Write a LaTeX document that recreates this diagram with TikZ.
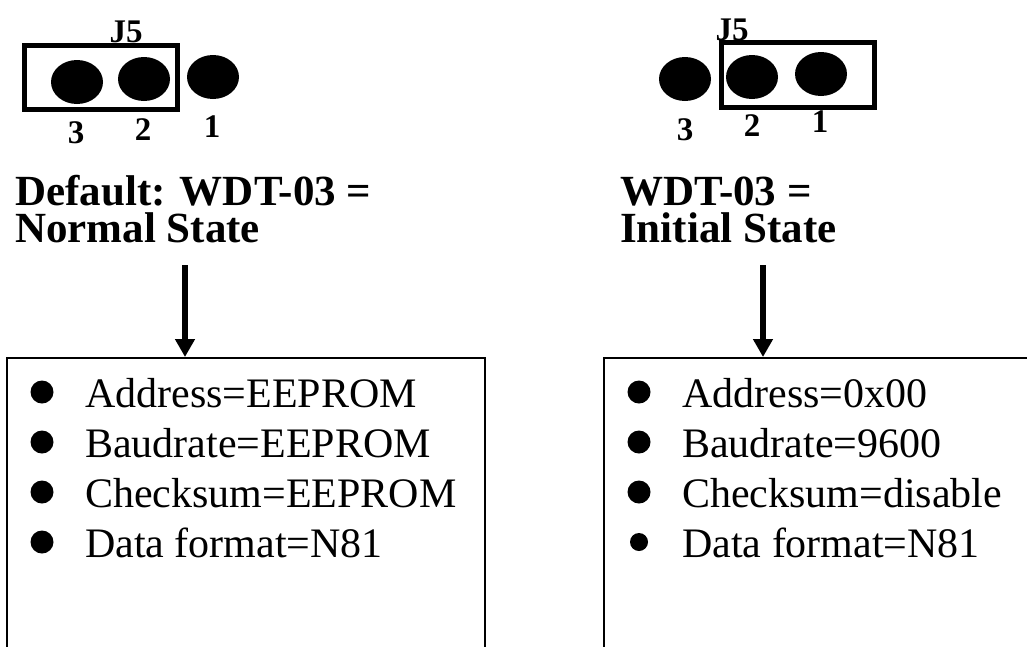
\documentclass[tikz,border=0pt]{standalone}
\usepackage{fontspec}
\setmainfont{Liberation Serif}
\usetikzlibrary{arrows.meta, positioning, shapes.geometric}

\tikzset{
  pin/.style={ellipse, fill=black, minimum width=52pt, minimum height=44pt, inner sep=0pt},
  pinnum/.style={font=\fontsize{33}{33}\selectfont\bfseries, inner sep=0pt},
  jumper/.style={draw, line width=5pt, inner sep=0pt},
  heading/.style={font=\fontsize{43}{37}\selectfont\bfseries, align=left, inner sep=0pt, anchor=base west},
  item/.style={font=\fontsize{42}{42}\selectfont, inner sep=0pt, anchor=base west},
  panel/.style={draw, line width=2pt, anchor=north west, inner sep=0pt},
  flow/.style={line width=6pt, -{Triangle[width=19pt, length=18pt]}},
}

\begin{document}
\begin{tikzpicture}[x=1pt, y=-1pt]
    \useasboundingbox (0,0) rectangle (1027,646);
    \clip (0,0) rectangle (1027,646);

    % jumper J5, default (pins 2-3 closed)
    \node [jumper, minimum width=153pt, minimum height=64pt] (jl) at (101,77.5) {};
    \node [pin] (lp3) at (77,82) {};
    \node [pin] (lp2) at (144,79) {};
    \node [pin] (lp1) at (213,77) {};
    \node [pinnum, anchor=base] (lj5) at (126,42) {J5};
    \node [pinnum] (ln3) at (76,133) {3};
    \node [pinnum] (ln2) at (143,130) {2};
    \node [pinnum] (ln1) at (212,127) {1};

    % jumper J5, init (pins 1-2 closed)
    \node [jumper, minimum width=153pt, minimum height=65pt] (jr) at (798,75) {};
    \node [pin] (rp3) at (685,79) {};
    \node [pin] (rp2) at (752,77) {};
    \node [pin] (rp1) at (821,74) {};
    \node [pinnum, anchor=base] (rj5) at (732,40) {J5};
    \node [pinnum] (rn3) at (685,130) {3};
    \node [pinnum] (rn2) at (752,126) {2};
    \node [pinnum] (rn1) at (820,122) {1};

    % headings
    \node [heading] (lhead) at (15,242) {Default: WDT-03 =\\Normal State};
    \node [heading] (rhead) at (620,242) {WDT-03 =\\Initial State};

    % panels
    \node [panel, minimum width=478pt, minimum height=400pt] (lbox) at (6,357) {};
    \node [panel, minimum width=480pt, minimum height=400pt] (rbox) at (603,357) {};

    \coordinate (lsrc) at (185,265);
    \coordinate (rsrc) at (763,265);
    \draw [flow] (lsrc) -- (lsrc |- lbox.north);
    \draw [flow] (rsrc) -- (rsrc |- rbox.north);

    \foreach \txt [count=\i] in {Address=EEPROM, Baudrate=EEPROM, Checksum=EEPROM, Data format=N81} {
        \node [item] (litem\i) at (85,357+50*\i) {\txt};
        \fill (42,342+50*\i) circle (11.5pt);
    }
    \foreach \txt/\r [count=\i] in {Address=0x00/11.5, Baudrate=9600/11.5, Checksum=disable/11.5, Data format=N81/9} {
        \node [item] (ritem\i) at (682,357+50*\i) {\txt};
        \fill (639,342+50*\i) circle (\r pt);
    }
\end{tikzpicture}
\end{document}
